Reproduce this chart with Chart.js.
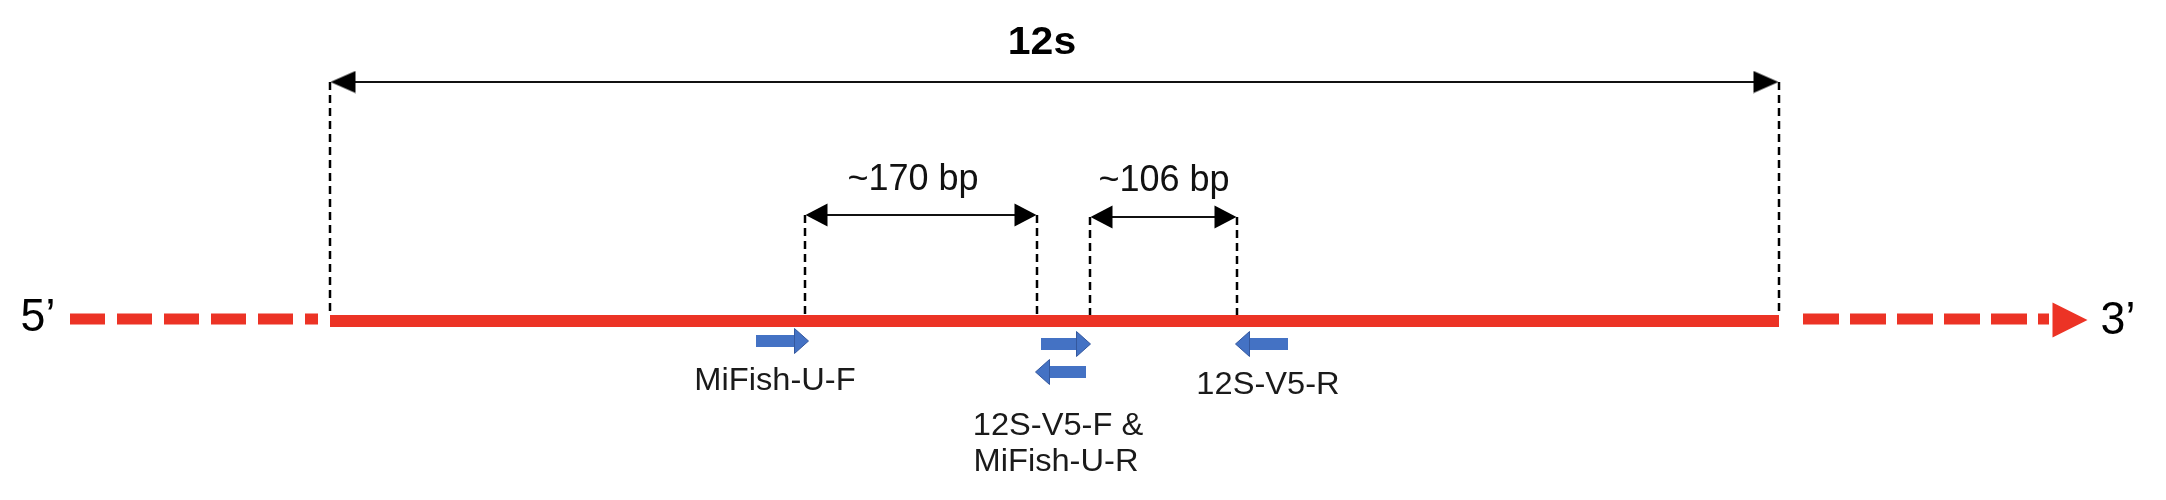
<!DOCTYPE html>
<html>
<head>
<meta charset="utf-8">
<script src="https://cdn.jsdelivr.net/npm/chart.js@4/dist/chart.umd.min.js"></script>
<style>
  html, body { margin: 0; padding: 0; background: #fff; }
</style>
</head>
<body>
<canvas id="myChart" width="2166" height="500"></canvas>
<script>
// positions on the drawing: x runs 0-2166 left to right, y runs 0-500 top to bottom
var strandY = 321;
var regionFrom = 330, regionTo = 1779;   // solid 12s part of the strand
var tail5 = [70, 318];                   // dashed 5' end
var tail3 = [1803, 2049];                // dashed 3' end
var tip3 = 2088;                         // 3' arrow tip

// primer sites (dashed guides up from the strand)
var siteNames = ["12s start", "MiFish-U-F", "MiFish-U-R", "12S-V5-F", "12S-V5-R", "12s end"];
var siteX = [330, 805, 1037, 1090, 1237, 1779];
var siteTop = [82, 215, 215, 217, 217, 82];

// spans with double headed arrows
var spanLabels = ["12s", "~170 bp", "~106 bp"];
var spanFrom = [330, 805, 1090];
var spanTo = [1779, 1037, 1237];
var spanY = [82, 215, 217];
var spanLabelX = [1042, 913, 1164];
var spanLabelY = [43, 180, 181];

// primers (blue arrows)
var primerNames = ["MiFish-U-F", "12S-V5-F", "MiFish-U-R", "12S-V5-R"];
var primerTail = [756, 1041, 1086, 1288];
var primerTip = [809, 1091, 1035, 1235];
var primerY = [341, 344, 372, 344];

var primerLabels = ["MiFish-U-F", "12S-V5-F &", "MiFish-U-R", "12S-V5-R"];
var primerLabelX = [775, 1058, 1056, 1268];
var primerLabelY = [381, 426, 462, 385];

var endLabels = ["5’", "3’"];
var endLabelX = [38, 2118];
var endLabelY = [318, 321];

var RED = "#EC3325", BLUE = "#4472C4";

// arrow head drawn once, pointing right
function makeHead(w, h, fill, stroke) {
  var c = document.createElement("canvas");
  c.width = w; c.height = h;
  var g = c.getContext("2d");
  g.beginPath();
  g.moveTo(0.5, 0.5); g.lineTo(w - 0.5, h / 2); g.lineTo(0.5, h - 0.5); g.closePath();
  g.fillStyle = fill; g.fill();
  if (stroke) { g.strokeStyle = stroke; g.lineWidth = 1; g.stroke(); }
  return c;
}
var bigHead = makeHead(26, 23, "#000");
var smallHead = makeHead(23, 24, "#000");
var blueHead = makeHead(15, 26, BLUE, "#34589E");
var redHead = makeHead(36, 36, RED);

function line(pts, color, width, dash) {
  return {
    data: pts, showLine: true, borderColor: color, borderWidth: width,
    borderDash: dash || [], borderCapStyle: "butt", pointRadius: 0, clip: false
  };
}

var datasets = [];

// dashed guides
for (var i = 0; i < siteX.length; i++) {
  datasets.push(line([{x: siteX[i], y: siteTop[i]}, {x: siteX[i], y: strandY - 6}], "#000", 2.5, [8, 5]));
}

// strand
datasets.push(line([{x: regionFrom, y: strandY}, {x: regionTo, y: strandY}], RED, 12));
datasets.push(line([{x: tail5[0], y: strandY - 2}, {x: tail5[1], y: strandY - 2}], RED, 11, [35, 12]));
datasets.push(line([{x: tail3[0], y: strandY - 2}, {x: tail3[1], y: strandY - 2}], RED, 11, [36, 11]));
datasets.push({
  data: [{x: tip3 - redHead.width / 2, y: strandY - 1}], showLine: false,
  pointStyle: redHead, pointRadius: 5, clip: false
});

// double headed arrows
for (var j = 0; j < spanFrom.length; j++) {
  var head = j === 0 ? bigHead : smallHead;
  var hw = head.width / 2;
  var ds = line([{x: spanFrom[j] + hw, y: spanY[j]}, {x: spanTo[j] - hw, y: spanY[j]}], "#111", 2);
  ds.pointStyle = head;
  ds.pointRotation = [180, 0];
  ds.pointRadius = 5;
  datasets.push(ds);
}

// primer arrows
for (var k = 0; k < primerTail.length; k++) {
  var dir = primerTip[k] > primerTail[k] ? 1 : -1;
  var bw = blueHead.width / 2;
  var pd = line([{x: primerTail[k], y: primerY[k]}, {x: primerTip[k] - dir * bw, y: primerY[k]}], BLUE, 12);
  pd.pointStyle = ["circle", blueHead];
  pd.pointRotation = [0, dir > 0 ? 0 : 180];
  pd.pointRadius = [0, 5];
  datasets.push(pd);
}

// texts
function putText(ctx, txt, x, y, stretch) {
  ctx.save();
  ctx.translate(x, y);
  ctx.scale(stretch, 1);
  ctx.fillText(txt, 0, 0);
  ctx.restore();
}

var textPlugin = {
  id: "texts",
  afterDatasetsDraw: function(chart) {
    var ctx = chart.ctx, sx = chart.scales.x, sy = chart.scales.y;
    ctx.save();
    ctx.textAlign = "center";
    ctx.textBaseline = "middle";
    ctx.fillStyle = "#000";
    ctx.font = "bold 39px 'Liberation Sans', Arial, sans-serif";
    putText(ctx, spanLabels[0], sx.getPixelForValue(spanLabelX[0]), sy.getPixelForValue(spanLabelY[0]), 1.05);
    ctx.fillStyle = "#111";
    ctx.font = "36px 'Liberation Sans', Arial, sans-serif";
    for (var a = 1; a < spanLabels.length; a++) {
      putText(ctx, spanLabels[a], sx.getPixelForValue(spanLabelX[a]), sy.getPixelForValue(spanLabelY[a]), 1);
    }
    ctx.fillStyle = "#000";
    ctx.font = "47px 'Liberation Sans', Arial, sans-serif";
    for (var b = 0; b < endLabels.length; b++) {
      putText(ctx, endLabels[b], sx.getPixelForValue(endLabelX[b]), sy.getPixelForValue(endLabelY[b]), 0.95);
    }
    ctx.fillStyle = "#1a1a1a";
    ctx.font = "32px 'Liberation Sans', Arial, sans-serif";
    for (var c = 0; c < primerLabels.length; c++) {
      putText(ctx, primerLabels[c], sx.getPixelForValue(primerLabelX[c]), sy.getPixelForValue(primerLabelY[c]), 1.02);
    }
    ctx.restore();
  }
};

var ctx = document.getElementById("myChart").getContext("2d");
var myChart = new Chart(ctx, {
  type: "scatter",
  data: { datasets: datasets },
  options: {
    responsive: false,
    animation: false,
    layout: { padding: 0, autoPadding: false },
    plugins: { legend: { display: false }, tooltip: { enabled: false } },
    scales: {
      x: { type: "linear", min: 0, max: 2166, display: false },
      y: { type: "linear", min: 0, max: 500, reverse: true, display: false }
    }
  },
  plugins: [textPlugin]
});
</script>
</body>
</html>
